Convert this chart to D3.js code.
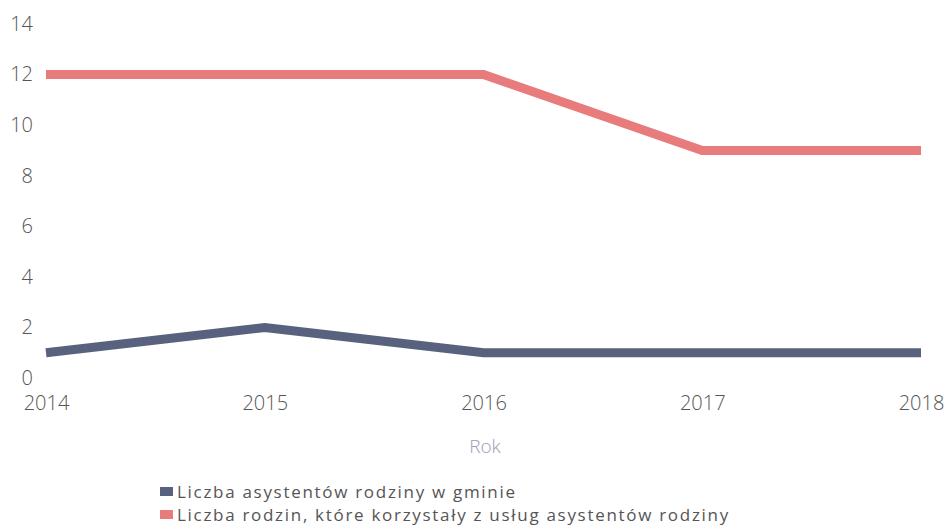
<!DOCTYPE html>
<html>
<head>
<meta charset="utf-8">
<script src="https://cdn.jsdelivr.net/npm/d3@7"></script>
<style>
  body { margin: 0; background: #fff; }
  svg text { font-family: "Open Sans", "DejaVu Sans", sans-serif; }
</style>
</head>
<body>
<svg id="chart" width="946" height="531"></svg>
<script>
// dane z wykresu
const years = [2014, 2015, 2016, 2017, 2018];
const asystenci = [1, 2, 1, 1, 1];
const rodziny = [12, 12, 12, 9, 9];
const yTicks = [0, 2, 4, 6, 8, 10, 12, 14];
const seriesNames = [
    "Liczba asystentów rodziny w gminie",
    "Liczba rodzin, które korzystały z usług asystentów rodziny"
];
const seriesColors = ["#58627f", "#e87b7c"];

let svg = d3.select("#chart");

let xScale = d3.scaleLinear()
    .domain([2014, 2018])
    .range([46, 921]);

let yScale = d3.scaleLinear()
    .domain([0, 14])
    .range([378, 24]);

// oś Y - tylko etykiety
let yAxis = d3.axisLeft(yScale)
    .tickValues(yTicks)
    .tickSize(0)
    .tickPadding(0);

svg.append("g")
    .attr("transform", "translate(33,0)")
    .call(yAxis)
    .call(g => g.select(".domain").remove())
    .selectAll("text")
    .attr("font-size", 20)
    .attr("font-weight", 300)
    .attr("fill", "#555")
    .attr("font-family", "Open Sans, sans-serif");

// oś X
let xAxis = d3.axisBottom(xScale)
    .tickValues(years)
    .tickFormat(d3.format("d"))
    .tickSize(0)
    .tickPadding(0);

svg.append("g")
    .attr("transform", "translate(0,396)")
    .call(xAxis)
    .call(g => g.select(".domain").remove())
    .selectAll("text")
    .attr("font-size", 20)
    .attr("font-weight", 300)
    .attr("fill", "#555")
    .attr("font-family", "Open Sans, sans-serif");

svg.append("text")
    .attr("x", 485)
    .attr("y", 453)
    .attr("text-anchor", "middle")
    .attr("font-size", 19)
    .attr("font-weight", 300)
    .attr("fill", "#9d9bb8")
    .text("Rok");

let line = d3.line()
    .x(d => xScale(d[0]))
    .y(d => yScale(d[1]));

[asystenci, rodziny].forEach((vals, i) => {
    svg.append("path")
        .datum(years.map((y, j) => [y, vals[j]]))
        .attr("d", line)
        .attr("fill", "none")
        .attr("stroke", seriesColors[i])
        .attr("stroke-width", 9);
});

// legenda
let legend = svg.append("g");
seriesNames.forEach((name, i) => {
    let y0 = 492 + i * 23;
    legend.append("rect")
        .attr("x", 160)
        .attr("y", y0 - 5)
        .attr("width", 13)
        .attr("height", 9)
        .attr("fill", seriesColors[i]);
    legend.append("text")
        .attr("x", 177)
        .attr("y", y0 + 6)
        .attr("font-size", 17)
        .attr("letter-spacing", 1.7)
        .attr("fill", "#555")
        .text(name);
});
</script>
</body>
</html>
